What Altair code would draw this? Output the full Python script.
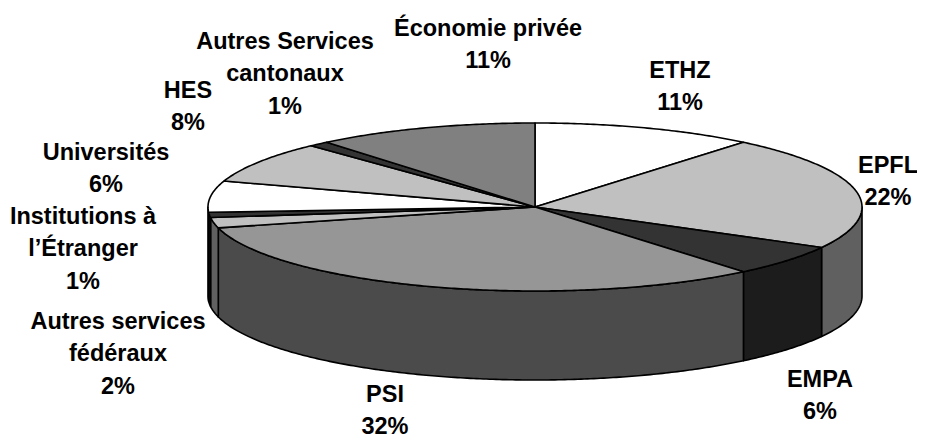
import math
import altair as alt

# Data, clockwise from 12 o'clock
categories = ["ETHZ", "EPFL", "EMPA", "PSI", "Autres services fédéraux",
              "Institutions à l’Étranger", "Universités", "HES",
              "Autres Services cantonaux", "Économie privée"]
shares = [11, 22, 6, 32, 2, 1, 6, 8, 1, 11]
top_colors = ["#ffffff", "#c0c0c0", "#333333", "#969696", "#c0c0c0",
              "#333333", "#ffffff", "#c0c0c0", "#333333", "#808080"]
wall_colors = ["#808080", "#606060", "#1c1c1c", "#4b4b4b", "#606060",
               "#1c1c1c", "#808080", "#606060", "#1c1c1c", "#404040"]

# Label layout
label_lines = [["ETHZ", "11%"], ["EPFL", "22%"], ["EMPA", "6%"], ["PSI", "32%"],
               ["Autres services", "fédéraux", "2%"],
               ["Institutions à", "l’Étranger", "1%"],
               ["Universités", "6%"], ["HES", "8%"],
               ["Autres Services", "cantonaux", "1%"],
               ["Économie privée", "11%"]]
label_x = [672, 880, 812, 377, 110, 75, 98, 180, 277, 480]
label_y = [51, 146, 360, 375, 302, 197, 133, 71, 22, 9]

# Pie geometry (page margin already subtracted)
CX, CY, RX, RY, DEPTH = 527, 199, 327, 84, 89


def edge(t, dy=0.0):
    return [CX + RX * math.sin(t), CY - RY * math.cos(t) + dy]


def arc_pts(a, b, dy=0.0):
    n = max(2, int(abs(b - a) / 0.01))
    return [edge(a + (b - a) * i / n, dy) for i in range(n + 1)]


tops, walls = [], []
cum = 0
for share, top, wall, name in zip(shares, top_colors, wall_colors, categories):
    a = cum / 100 * 2 * math.pi
    cum += share
    b = cum / 100 * 2 * math.pi
    ring = [[CX, CY]] + arc_pts(a, b) + [[CX, CY]]
    tops.append({"type": "Feature", "properties": {"fill": top, "name": name},
                 "geometry": {"type": "Polygon", "coordinates": [ring]}})
    lo, hi = max(a, math.pi / 2), min(b, 3 * math.pi / 2)
    if hi > lo:
        w = arc_pts(lo, hi) + arc_pts(hi, lo, DEPTH)
        w.append(w[0])
        walls.append({"type": "Feature", "properties": {"fill": wall, "name": name},
                      "geometry": {"type": "Polygon", "coordinates": [w]}})


def shapes(features):
    return alt.Chart(alt.InlineData(
        values={"type": "FeatureCollection", "features": features},
        format=alt.DataFormat(property="features", type="json"),
    )).mark_geoshape(stroke="#000000", strokeWidth=1.6, strokeJoin="round").encode(
        fill=alt.Fill("properties.fill:N", scale=None)
    ).project(type="identity", scale=1, translate=[0, 0])


labels = alt.Chart(alt.Data(values=[
    {"t": t, "x": x, "y": y} for t, x, y in zip(label_lines, label_x, label_y)
])).mark_text(font="Liberation Sans", fontWeight="bold", fontSize=23.5, lineHeight=32.3,
              align="center", baseline="top", color="#000000").encode(
    text="t:N",
    x=alt.X("x:Q", scale=None),
    y=alt.Y("y:Q", scale=None),
)

chart = alt.layer(shapes(walls), shapes(tops), labels).properties(
    width=909, height=431, padding=0, autosize=alt.AutoSizeParams(type="none")
).configure_view(stroke=None)

chart.save("out.html", embed_options={"renderer": "svg", "actions": False})
